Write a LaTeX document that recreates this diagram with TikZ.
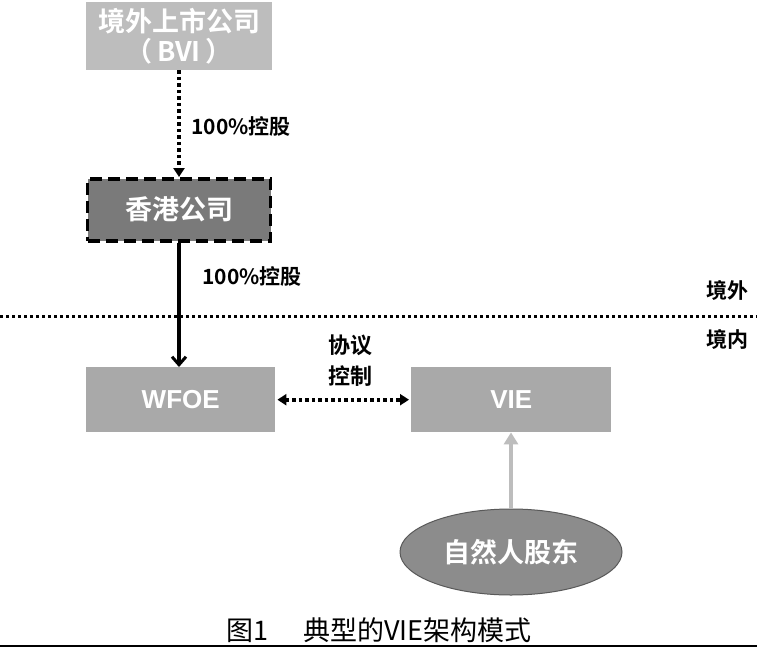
\documentclass[tikz,border=0pt]{standalone}
\usepackage{fontspec}
\setmainfont{Liberation Sans}
\newfontfamily\cjk{Noto Sans CJK SC}
\newfontfamily\cjkb{Noto Sans CJK SC Bold}
\newfontfamily\latb{Liberation Sans Bold}
\usetikzlibrary{shapes.geometric,arrows.meta}
\definecolor{lightbox}{HTML}{BDBDBD}
\definecolor{midbox}{HTML}{A9A9A9}
\definecolor{darkbox}{HTML}{7A7A7A}
\definecolor{ellfill}{HTML}{8C8C8C}
\begin{document}
\begin{tikzpicture}[x=1pt,y=-1pt,
  boxtext/.style={text=white,font=\cjkb\fontsize{27}{30}\selectfont,align=center},
  lattext/.style={text=white,font=\latb\fontsize{26}{28}\selectfont,align=center},
  lbl/.style={font=\cjkb\fontsize{21}{25}\selectfont,text=black,align=center},
  dotline/.style={line width=4pt,dash pattern=on 3.5pt off 3pt},
  tip/.style={-{Triangle[length=9pt,width=11pt]}}]
\useasboundingbox (0,0) rectangle (757,648);
\fill[white] (0,0) rectangle (757,648);
% top box
\node[fill=lightbox,minimum width=186pt,minimum height=68pt,inner sep=0pt,boxtext,anchor=north] (bvi) at (179,2) {境外上市公司\\（\,BVI\,）};
% HK
\node[fill=darkbox,draw=black,line width=3.5pt,dash pattern=on 12pt off 6pt,minimum width=183pt,minimum height=62pt,inner sep=0pt,boxtext,anchor=north] (hk) at (179,177) {香港公司};
\draw[dotline,tip] (bvi.south) -- (hk.north);
\node[lbl,anchor=west] (l1) at (188,126) {100\%控股};
% WFOE
\node[fill=midbox,minimum width=189pt,minimum height=65pt,inner sep=0pt,lattext,anchor=north west] (wfoe) at (86,367) {WFOE};
\node[fill=midbox,minimum width=200pt,minimum height=65pt,inner sep=0pt,lattext,anchor=north west] (vie) at (411,367) {VIE};
\draw[line width=3.5pt,-{Straight Barb[length=8pt,width=14pt,line width=3pt]}] (hk.south) -- (wfoe.north -| hk.south);
\node[lbl,anchor=west] (l2) at (199,276) {100\%控股};
% border line
\coordinate (bl) at (0,316);
\coordinate (br) at (757,316);
\draw[line width=3pt,dash pattern=on 3pt off 3pt] (bl) -- (br);
\node[lbl,anchor=east] (out) at (752,290) {境外};
\node[lbl,anchor=east] (in) at (752,339) {境内};
% agreement
\draw[dotline,{Triangle[length=9pt,width=11pt]}-{Triangle[length=9pt,width=11pt]}] ([xshift=2pt]wfoe.east) -- ([xshift=-2pt]vie.west);
\node[lbl,font=\cjkb\fontsize{22}{31}\selectfont] (agr) at (350,361) {协议\\控制};
% person
\node[ellipse,fill=ellfill,draw=black!65,line width=1pt,minimum width=222pt,minimum height=86pt,boxtext] (per) at (511,552) {自然人股东};
\draw[draw=lightbox,line width=4pt,-{Triangle[length=12pt,width=14pt]}] (per.north) -- (per.north |- vie.south);
% caption
\node[font=\cjk\fontsize{27}{30}\selectfont,text=black] (cap) at (379,630) {图1\hspace{1.3em}典型的VIE架构模式};
\coordinate (ll) at (0,646);
\coordinate (lr) at (757,646);
\draw[line width=1.5pt] (ll) -- (lr);
\end{tikzpicture}
\end{document}
